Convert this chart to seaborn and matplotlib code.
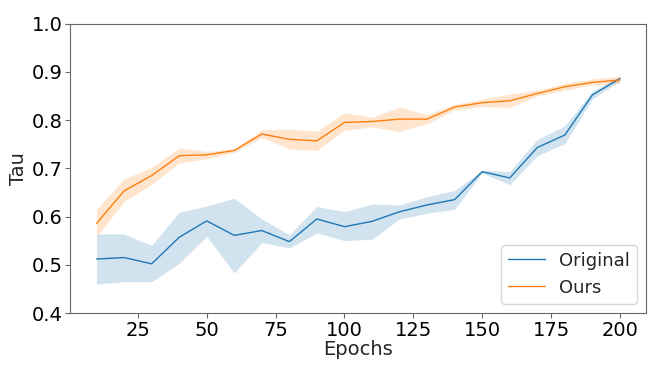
import numpy as np
import pandas as pd
import matplotlib
matplotlib.use("Agg")
import matplotlib.pyplot as plt
import seaborn as sns

epochs = list(range(10, 201, 10))

# Original: mean line and band limits
orig_mean = [0.512, 0.515, 0.502, 0.557, 0.591, 0.561, 0.571, 0.548, 0.595, 0.579,
             0.590, 0.610, 0.624, 0.635, 0.693, 0.680, 0.743, 0.769, 0.852, 0.886]
orig_low = [0.460, 0.465, 0.465, 0.503, 0.559, 0.483, 0.546, 0.535, 0.566, 0.550,
            0.553, 0.595, 0.607, 0.615, 0.690, 0.666, 0.726, 0.751, 0.844, 0.881]
orig_high = [0.564, 0.564, 0.540, 0.609, 0.622, 0.638, 0.595, 0.562, 0.621, 0.610,
             0.626, 0.624, 0.641, 0.654, 0.696, 0.693, 0.760, 0.788, 0.860, 0.891]

# Ours: mean line and band limits
ours_mean = [0.586, 0.653, 0.685, 0.726, 0.728, 0.737, 0.771, 0.760, 0.757, 0.795,
             0.797, 0.802, 0.802, 0.827, 0.836, 0.840, 0.855, 0.869, 0.878, 0.883]
ours_low = [0.558, 0.631, 0.667, 0.711, 0.720, 0.733, 0.764, 0.740, 0.737, 0.779,
            0.786, 0.776, 0.793, 0.821, 0.828, 0.826, 0.850, 0.862, 0.873, 0.876]
ours_high = [0.615, 0.678, 0.702, 0.742, 0.735, 0.740, 0.780, 0.781, 0.777, 0.815,
             0.806, 0.827, 0.811, 0.833, 0.843, 0.854, 0.862, 0.876, 0.885, 0.891]

sns.set_style("ticks", {"axes.edgecolor": "0.4", "xtick.color": "0.4", "ytick.color": "0.4"})

df = pd.DataFrame({
    "Epochs": epochs * 2,
    "Tau": orig_mean + ours_mean,
    "Method": ["Original"] * len(epochs) + ["Ours"] * len(epochs),
})

fig, ax = plt.subplots(figsize=(6.64, 3.74), dpi=100)
fig.subplots_adjust(left=0.106, right=0.973, top=0.937, bottom=0.163)

palette = {"Original": "tab:blue", "Ours": "tab:orange"}
sns.lineplot(data=df, x="Epochs", y="Tau", hue="Method", palette=palette,
             linewidth=1.0, ax=ax)
ax.fill_between(epochs, orig_low, orig_high, color="tab:blue", alpha=0.2, linewidth=0)
ax.fill_between(epochs, ours_low, ours_high, color="tab:orange", alpha=0.2, linewidth=0)

ax.set_ylim(0.4, 1.0)
ax.set_xlabel("Epochs", fontsize=14, labelpad=0)
ax.set_ylabel("Tau", fontsize=14, labelpad=3)
ax.tick_params(labelsize=14, colors="0.4", labelcolor="black", length=3.5, pad=2)
for s in ax.spines.values():
    s.set_visible(True)

leg = ax.legend(loc="lower right", fontsize=13, title=None, frameon=True)

plt.savefig("out.png", dpi=100)
